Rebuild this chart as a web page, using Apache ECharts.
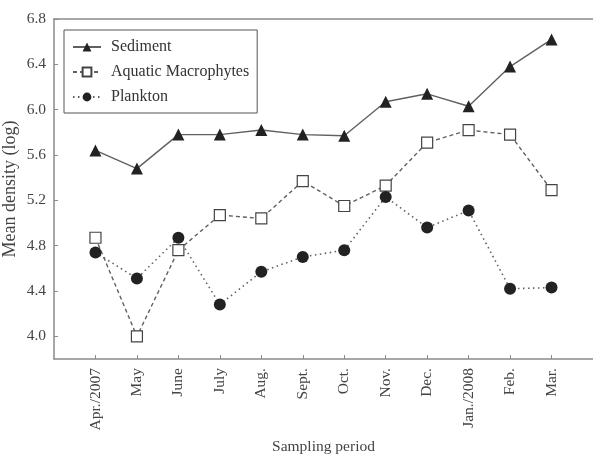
<!DOCTYPE html>
<html>
<head>
<meta charset="utf-8">
<script src="https://cdn.jsdelivr.net/npm/echarts@6/dist/echarts.min.js"></script>
<style>
  html, body { margin: 0; padding: 0; background: #fff; }
  #chart { width: 593px; height: 457px; }
</style>
</head>
<body>
<div id="chart"></div>
<script>
// sampling months (blank slots pad the axis on both ends)
var months = ['Apr./2007', 'May', 'June', 'July', 'Aug.', 'Sept.', 'Oct.', 'Nov.', 'Dec.', 'Jan./2008', 'Feb.', 'Mar.'];
var sediment = [5.64, 5.48, 5.78, 5.78, 5.82, 5.78, 5.77, 6.07, 6.14, 6.03, 6.38, 6.62];
var macrophytes = [4.87, 4.00, 4.76, 5.07, 5.04, 5.37, 5.15, 5.33, 5.71, 5.82, 5.78, 5.29];
var plankton = [4.74, 4.51, 4.87, 4.28, 4.57, 4.70, 4.76, 5.23, 4.96, 5.11, 4.42, 4.43];
var yTicks = [4.0, 4.4, 4.8, 5.2, 5.6, 6.0, 6.4, 6.8];

var cats = [''].concat(months, ['']);
function pad(arr) { return ['-'].concat(arr, ['-']); }

var font = 'Liberation Serif';
var axisGrey = '#8a8a8a';
var textGrey = '#444';

var chart = echarts.init(document.getElementById('chart'));
chart.setOption({
  animation: false,
  textStyle: { fontFamily: font },
  grid: { left: 54, right: 0, top: 19, bottom: 98, outerBoundsMode: 'none', containLabel: false },
  legend: {
    orient: 'vertical',
    left: 64,
    top: 30,
    padding: [9, 8, 8, 8],
    itemWidth: 28,
    itemHeight: 11,
    itemGap: 9,
    borderColor: '#555',
    borderWidth: 1,
    textStyle: { fontFamily: font, fontSize: 16, color: '#333', padding: [0, 0, 0, 5] },
    data: ['Sediment', 'Aquatic Macrophytes', 'Plankton']
  },
  xAxis: [{
    type: 'category',
    data: cats,
    boundaryGap: false,
    name: 'Sampling period',
    nameLocation: 'middle',
    nameGap: 80,
    nameTextStyle: { fontFamily: font, fontSize: 15.5, color: textGrey },
    axisLine: { lineStyle: { color: axisGrey, width: 1.5 } },
    axisTick: {
      inside: true, length: 4,
      lineStyle: { color: axisGrey },
      interval: function (i) { return i > 0 && i < cats.length - 1; }
    },
    axisLabel: {
      rotate: 90, interval: 0, margin: 9,
      fontFamily: font, fontSize: 15.5, color: textGrey
    },
    splitLine: { show: false }
  }, {
    type: 'category',
    data: cats,
    position: 'top',
    boundaryGap: false,
    axisLine: { lineStyle: { color: axisGrey, width: 1.5 } },
    axisTick: { show: false },
    axisLabel: { show: false }
  }],
  yAxis: {
    type: 'value',
    min: 3.8,
    max: 6.8,
    name: 'Mean density (log)',
    nameLocation: 'middle',
    nameGap: 35,
    nameMoveOverlap: false,
    nameTextStyle: { fontFamily: font, fontSize: 18, color: textGrey },
    axisLine: { show: true, lineStyle: { color: axisGrey, width: 1.5 } },
    axisTick: { show: true, inside: true, length: 4, lineStyle: { color: axisGrey }, customValues: yTicks },
    axisLabel: {
      customValues: yTicks, margin: 8,
      fontFamily: font, fontSize: 15.5, color: textGrey,
      formatter: function (v) { return v.toFixed(1); }
    },
    splitLine: { show: false }
  },
  series: [{
    name: 'Sediment',
    type: 'line',
    data: pad(sediment),
    symbol: 'triangle',
    symbolSize: 12,
    itemStyle: { color: '#222' },
    lineStyle: { color: '#606060', width: 1.4, type: 'solid' }
  }, {
    name: 'Aquatic Macrophytes',
    type: 'line',
    data: pad(macrophytes),
    symbol: 'rect',
    symbolSize: 11,
    itemStyle: { color: '#fff', borderColor: '#444', borderWidth: 1.2 },
    lineStyle: { color: '#606060', width: 1.4, type: [4, 3] }
  }, {
    name: 'Plankton',
    type: 'line',
    data: pad(plankton),
    symbol: 'circle',
    symbolSize: 12,
    itemStyle: { color: '#222' },
    lineStyle: { color: '#606060', width: 1.6, type: [1.5, 3.5] }
  }]
});
</script>
</body>
</html>
